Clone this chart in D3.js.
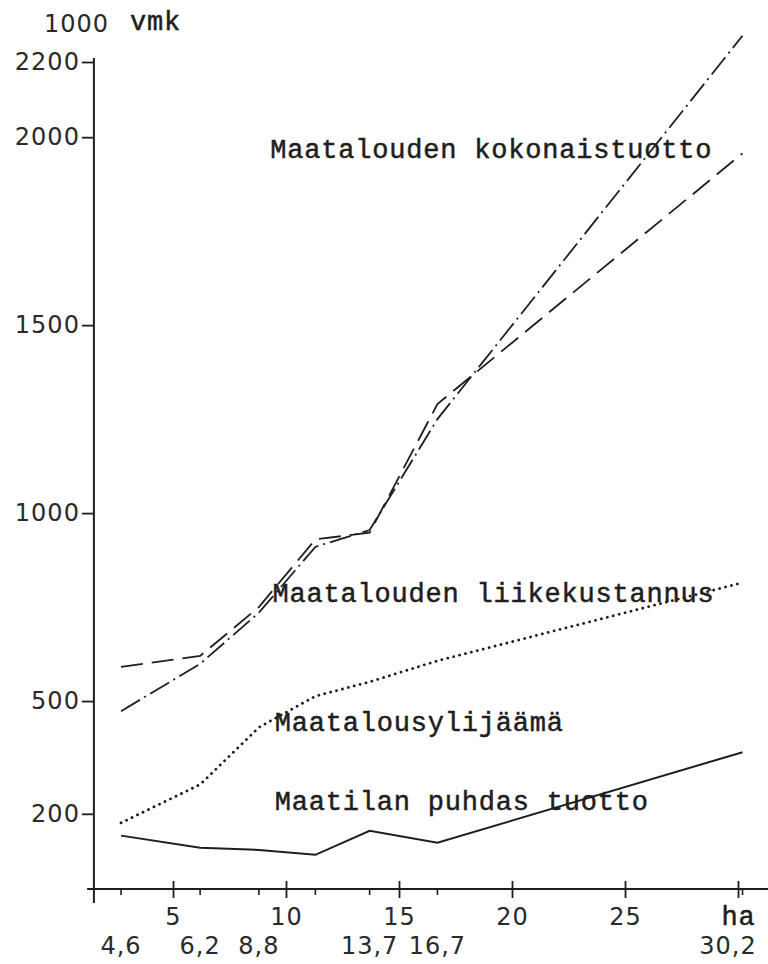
<!DOCTYPE html>
<html>
<head>
<meta charset="utf-8">
<script src="https://cdn.jsdelivr.net/npm/d3@7"></script>
<style>
  body { margin: 0; background: #fff; }
  svg { display: block; background: #fff; }
  .num { font-family: 'DejaVu Sans', sans-serif; font-size: 24px; letter-spacing: 1px; fill: #2a2a2a; }
  .tw { font-family: 'Courier New', 'Liberation Mono', monospace; font-size: 27px; letter-spacing: 0.8px; fill: #1e1e1e; stroke: #1e1e1e; stroke-width: 0.5px; }
</style>
</head>
<body>
<div id="chart"></div>
<script>
// farm size positions along the ha axis, and the averages typed under them
const sizeHa = [2.7, 6.2, 8.8, 11.3, 13.7, 16.7, 30.2]
const sizeLabels = ['4,6', '6,2', '8,8', '', '13,7', '16,7', '30,2']

// 1000 vmk
const dashedValues = [591, 620, 750, 930, 948, 1290, 1957]
const dashDotValues = [473, 599, 735, 910, 955, 1250, 2270]
const dottedValues = [176, 278, 430, 513, 551, 607, 815]
const solidValues = [142, 110, 104, 91, 155, 123, 364]

const yTicks = [200, 500, 1000, 1500, 2000, 2200]
const xTicks = [5, 10, 15, 20, 25, 30]
const xTickLabels = ['5', '10', '15', '20', '25', 'ha']

const lineLabels = [
  { text: 'Maatalouden kokonaistuotto', ha: 9.3, value: 1945 },
  { text: 'Maatalouden liikekustannus', ha: 9.4, value: 763 },
  { text: 'Maatalousylijäämä', ha: 9.5, value: 420 },
  { text: 'Maatilan puhdas tuotto', ha: 9.5, value: 210 }
]

const width = 768
const height = 964
const ink = '#1e1e1e'

const x = d3.scaleLinear().domain([0, 30]).range([60, 738])
const y = d3.scaleLinear().domain([0, 2200]).range([889, 62])
const axisX = x(1.5)
const axisY = y(0)

const svg = d3.select('#chart')
  .append('svg')
  .attr('width', width)
  .attr('height', height)

// y axis
const gy = svg.append('g')
  .attr('transform', `translate(${axisX},0)`)
  .call(d3.axisLeft(y).tickValues(yTicks).tickFormat(d3.format('d'))
    .tickSize(12).tickPadding(2).tickSizeOuter(0))
gy.select('.domain').remove()
gy.selectAll('line').attr('stroke', ink).attr('stroke-width', 1.8)
gy.selectAll('text').attr('class', 'num')
gy.append('line')
  .attr('x1', 0).attr('x2', 0)
  .attr('y1', y(2200) - 4).attr('y2', axisY + 14)
  .attr('stroke', ink).attr('stroke-width', 2)

// x axis
const gx = svg.append('g')
  .attr('transform', `translate(0,${axisY})`)
  .call(d3.axisBottom(x).tickValues(xTicks).tickSize(9).tickFormat((d, i) => xTickLabels[i]))
gx.select('.domain').remove()
gx.selectAll('.tick line').attr('y1', -8).attr('stroke', ink).attr('stroke-width', 1.8)
gx.selectAll('.tick text')
  .attr('y', 36).attr('dy', null)
  .attr('class', (d, i) => i === xTicks.length - 1 ? 'tw' : 'num')
gx.append('line')
  .attr('x1', x(1.2)).attr('x2', width)
  .attr('stroke', ink).attr('stroke-width', 2)

// small ticks under the axis at each size class
gx.selectAll('.minor')
  .data(sizeHa)
  .enter().append('line')
  .attr('class', 'minor')
  .attr('x1', d => x(d)).attr('x2', d => x(d))
  .attr('y1', 0).attr('y2', 6)
  .attr('stroke', ink).attr('stroke-width', 1.6)

gx.selectAll('.sizeLabel')
  .data(sizeHa)
  .enter().append('text')
  .attr('class', 'num')
  .attr('x', d => Math.min(x(d), width - 40))
  .attr('y', 65)
  .attr('text-anchor', 'middle')
  .text((d, i) => sizeLabels[i])

// unit label
svg.append('text').attr('class', 'num').attr('x', axisX - 50).attr('y', 32).text('1000')
svg.append('text').attr('class', 'tw').attr('x', axisX + 36).attr('y', 30).text('vmk')

// the four curves
const line = d3.line().x(d => x(d[0])).y(d => y(d[1]))
const series = [
  { values: dashedValues, dash: '22,9', width: 1.8, cap: 'butt' },
  { values: dashDotValues, dash: '22,5,2,5', width: 1.8, cap: 'butt' },
  { values: dottedValues, dash: '0.1,6', width: 2.8, cap: 'round' },
  { values: solidValues, dash: null, width: 2, cap: 'butt' }
]
series.forEach(s => {
  svg.append('path')
    .datum(d3.zip(sizeHa, s.values))
    .attr('d', line)
    .attr('fill', 'none')
    .attr('stroke', ink)
    .attr('stroke-width', s.width)
    .attr('stroke-linecap', s.cap)
    .attr('stroke-dasharray', s.dash)
})

// line labels
svg.selectAll('.lineLabel')
  .data(lineLabels)
  .enter().append('text')
  .attr('class', 'tw')
  .attr('x', d => x(d.ha))
  .attr('y', d => y(d.value))
  .text(d => d.text)
</script>
</body>
</html>
